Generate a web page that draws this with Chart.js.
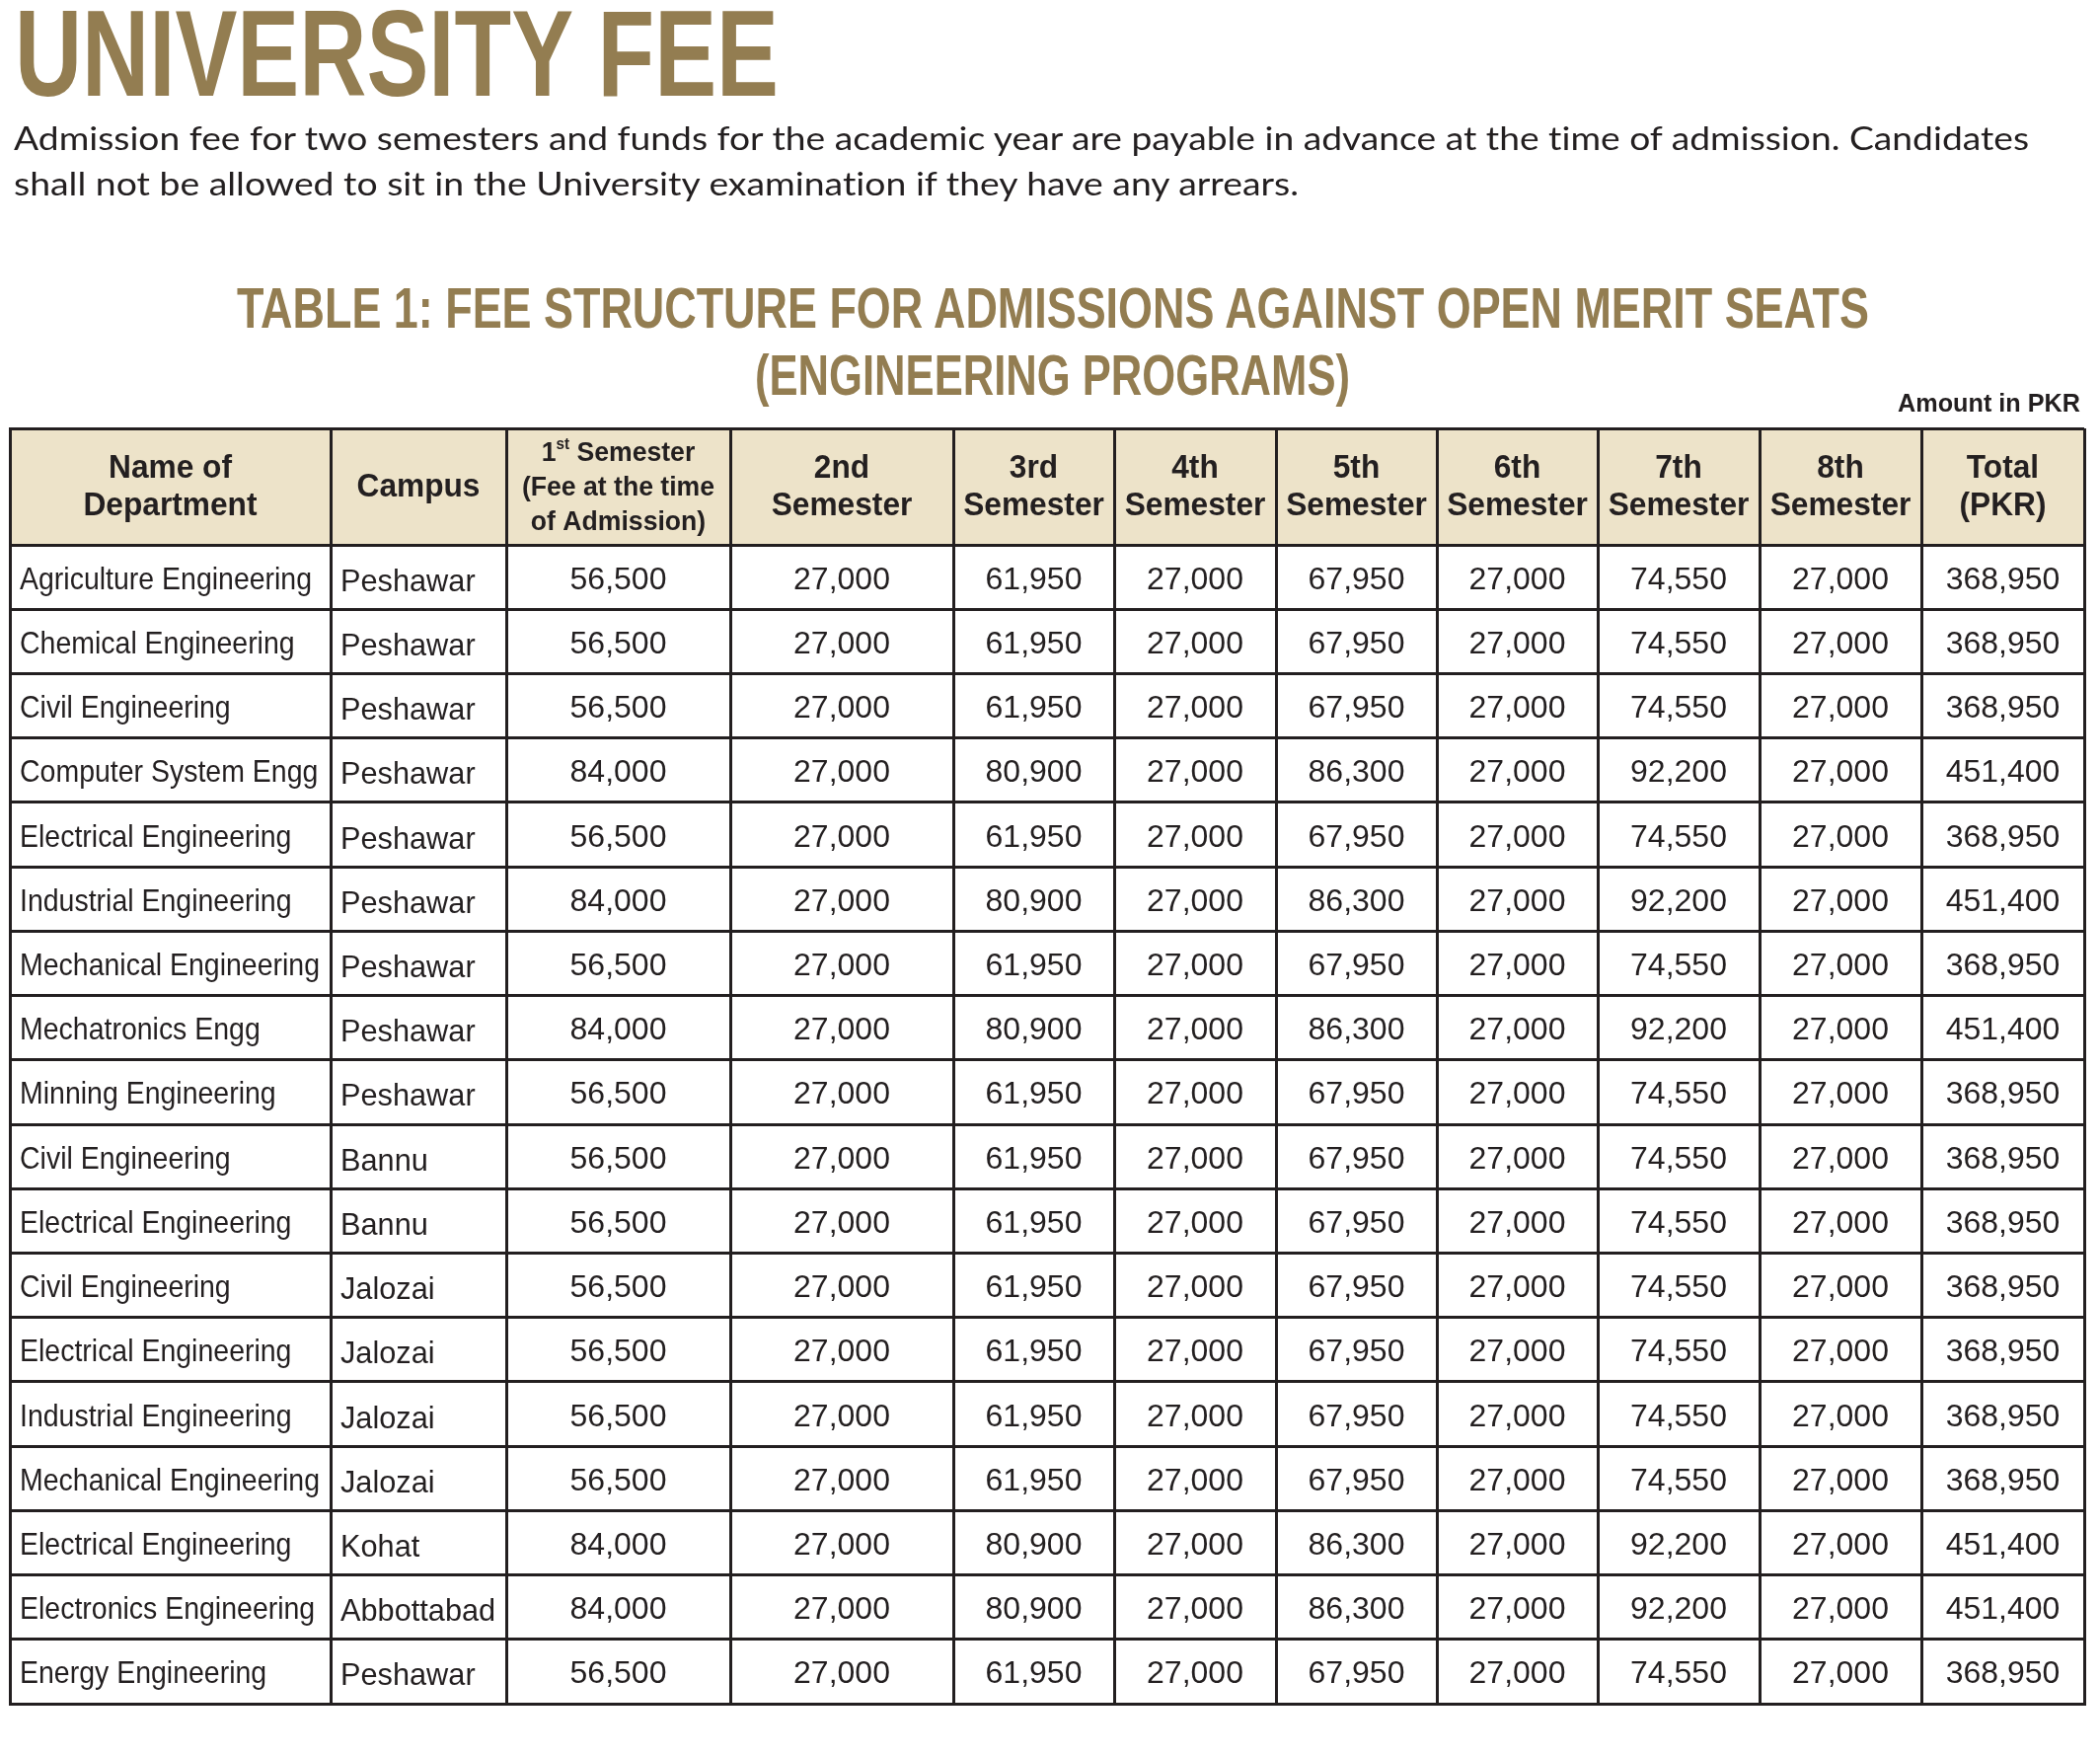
<!DOCTYPE html>
<html>
<head>
<meta charset="utf-8">
<title>University Fee</title>
<script src="https://cdn.jsdelivr.net/npm/chart.js@4.4.1/dist/chart.umd.min.js"></script>
<style>
  html, body { margin: 0; padding: 0; background: #fff; }
  body { width: 2128px; height: 1780px; position: relative; overflow: hidden; }
  #wrap { position: absolute; left: 0; top: 0; width: 2128px; height: 1780px; }
  .t { position: absolute; white-space: nowrap; line-height: 1; transform-origin: 0 0; font-variant-ligatures: none; }
  #mainTitle { font: bold 124px "Liberation Sans", Arial, sans-serif; color: #937d51; }
  .para { font: 32px Lato, "Open Sans", sans-serif; color: #231f20; font-variant-ligatures: none; }
  .tblTitle { font: bold 57px "Liberation Sans", Arial, sans-serif; color: #937d51; }
  #unit { font: bold 25px "Liberation Sans", Arial, sans-serif; color: #231f20; }
</style>
</head>
<body>
<div id="wrap"><canvas id="feeChart"></canvas></div>

<div class="t" id="mainTitle">UNIVERSITY FEE</div>
<div class="t para" id="para1">Admission fee for two semesters and funds for the academic year are payable in advance at the time of admission. Candidates</div>
<div class="t para" id="para2">shall not be allowed to sit in the University examination if they have any arrears.</div>
<div class="t tblTitle" id="tt1">TABLE 1: FEE STRUCTURE FOR ADMISSIONS AGAINST OPEN MERIT SEATS</div>
<div class="t tblTitle" id="tt2">(ENGINEERING PROGRAMS)</div>
<div class="t" id="unit">Amount in PKR</div>

<script>
const departments = [
    'Agriculture Engineering', 'Chemical Engineering', 'Civil Engineering',
    'Computer System Engg', 'Electrical Engineering', 'Industrial Engineering',
    'Mechanical Engineering', 'Mechatronics Engg', 'Minning Engineering',
    'Civil Engineering', 'Electrical Engineering', 'Civil Engineering',
    'Electrical Engineering', 'Industrial Engineering', 'Mechanical Engineering',
    'Electrical Engineering', 'Electronics Engineering', 'Energy Engineering'
];
const campuses = [
    'Peshawar', 'Peshawar', 'Peshawar', 'Peshawar', 'Peshawar', 'Peshawar',
    'Peshawar', 'Peshawar', 'Peshawar', 'Bannu', 'Bannu', 'Jalozai',
    'Jalozai', 'Jalozai', 'Jalozai', 'Kohat', 'Abbottabad', 'Peshawar'
];
const sem1Fee = [56500, 56500, 56500, 84000, 56500, 84000, 56500, 84000, 56500, 56500, 56500, 56500, 56500, 56500, 56500, 84000, 84000, 56500];
const sem2Fee = [27000, 27000, 27000, 27000, 27000, 27000, 27000, 27000, 27000, 27000, 27000, 27000, 27000, 27000, 27000, 27000, 27000, 27000];
const sem3Fee = [61950, 61950, 61950, 80900, 61950, 80900, 61950, 80900, 61950, 61950, 61950, 61950, 61950, 61950, 61950, 80900, 80900, 61950];
const sem4Fee = [27000, 27000, 27000, 27000, 27000, 27000, 27000, 27000, 27000, 27000, 27000, 27000, 27000, 27000, 27000, 27000, 27000, 27000];
const sem5Fee = [67950, 67950, 67950, 86300, 67950, 86300, 67950, 86300, 67950, 67950, 67950, 67950, 67950, 67950, 67950, 86300, 86300, 67950];
const sem6Fee = [27000, 27000, 27000, 27000, 27000, 27000, 27000, 27000, 27000, 27000, 27000, 27000, 27000, 27000, 27000, 27000, 27000, 27000];
const sem7Fee = [74550, 74550, 74550, 92200, 74550, 92200, 74550, 92200, 74550, 74550, 74550, 74550, 74550, 74550, 74550, 92200, 92200, 74550];
const sem8Fee = [27000, 27000, 27000, 27000, 27000, 27000, 27000, 27000, 27000, 27000, 27000, 27000, 27000, 27000, 27000, 27000, 27000, 27000];
const totalFee = [368950, 368950, 368950, 451400, 368950, 451400, 368950, 451400, 368950, 368950, 368950, 368950, 368950, 368950, 368950, 451400, 451400, 368950];

// header labels, one array per column ('^' marks a superscript)
const headerLines = [
    ['Name of', 'Department'],
    ['Campus'],
    ['1^st Semester', '(Fee at the time', 'of Admission)'],
    ['2nd', 'Semester'],
    ['3rd', 'Semester'],
    ['4th', 'Semester'],
    ['5th', 'Semester'],
    ['6th', 'Semester'],
    ['7th', 'Semester'],
    ['8th', 'Semester'],
    ['Total', '(PKR)']
];

// ---- layout / style ----
const colWidths = [325, 178, 227, 226, 163, 164, 163, 163, 164, 164, 165];
const HEADER_SPAN = 1.81;   // header row height in body-row units
const LINE = '#231f20';
const HEAD_BG = '#ede3c9';
const TEXT = '#231f20';
const FONT = '"Liberation Sans", Arial, sans-serif';

const colEdges = [0];
colWidths.forEach(w => colEdges.push(colEdges[colEdges.length - 1] + w));
const rowEdges = [0];
departments.forEach((d, i) => rowEdges.push(HEADER_SPAN + i));
rowEdges.push(HEADER_SPAN + departments.length);

const columns = [departments, campuses, sem1Fee, sem2Fee, sem3Fee, sem4Fee, sem5Fee, sem6Fee, sem7Fee, sem8Fee, totalFee];
const colAlign = columns.map((c, i) => i < 2 ? 'left' : 'center');
const colSquash = [0.89, 0.96, 1, 1, 1, 1, 1, 1, 1, 1, 1];

function fmt(v) {
    return typeof v === 'number' ? v.toLocaleString('en-US') : v;
}

const datasets = columns.map((col, c) => ({
    label: headerLines[c].join(' ').replace('^', ''),
    data: col.map((v, i) => ({
        x: colAlign[c] === 'left' ? colEdges[c] : (colEdges[c] + colEdges[c + 1]) / 2,
        y: HEADER_SPAN + i + 0.5,
        text: fmt(v)
    })),
    pointRadius: 0,
    showLine: false
}));

function squashText(ctx, text, x, y, align, sx) {
    ctx.save();
    ctx.translate(x, y);
    ctx.scale(sx, 1);
    ctx.textAlign = align;
    ctx.fillText(text, 0, 0);
    ctx.restore();
}

const tablePlugin = {
    id: 'feeTable',
    beforeDraw(chart) {
        const { ctx } = chart;
        const xs = chart.scales.x, ys = chart.scales.y;
        const top = ys.getPixelForValue(0), bottom = ys.getPixelForValue(HEADER_SPAN);
        ctx.save();
        ctx.fillStyle = HEAD_BG;
        ctx.fillRect(xs.getPixelForValue(0), top, xs.getPixelForValue(colEdges[colEdges.length - 1]) - xs.getPixelForValue(0), bottom - top);
        ctx.restore();
    },
    afterDraw(chart) {
        const { ctx } = chart;
        const xs = chart.scales.x, ys = chart.scales.y;
        ctx.save();
        ctx.fillStyle = TEXT;
        ctx.textBaseline = 'alphabetic';

        // header row
        const cy = (ys.getPixelForValue(0) + ys.getPixelForValue(HEADER_SPAN)) / 2;
        headerLines.forEach((lines, c) => {
            const cx = xs.getPixelForValue((colEdges[c] + colEdges[c + 1]) / 2);
            const three = lines.length === 3;
            const size = three ? 28 : 33;
            const sx = three ? 0.95 : 0.96;
            const offsets = lines.length === 1 ? [10] : lines.length === 2 ? [-9, 29] : [-26, 9, 44];
            lines.forEach((line, k) => {
                const y = cy + offsets[k];
                ctx.font = `bold ${size}px ${FONT}`;
                const m = line.match(/^(.*?)\^(\w+)(.*)$/);
                if (!m) {
                    squashText(ctx, line, cx, y, 'center', sx);
                    return;
                }
                const wBase = ctx.measureText(m[1]).width;
                const wRest = ctx.measureText(m[3]).width;
                ctx.font = `bold 16px ${FONT}`;
                const wSup = ctx.measureText(m[2]).width;
                let x = cx - (wBase + wSup + wRest) * sx / 2;
                ctx.font = `bold ${size}px ${FONT}`;
                squashText(ctx, m[1], x, y, 'left', sx);
                x += wBase * sx;
                ctx.font = `bold 16px ${FONT}`;
                squashText(ctx, m[2], x, y - 12, 'left', sx);
                x += wSup * sx;
                ctx.font = `bold ${size}px ${FONT}`;
                squashText(ctx, m[3], x, y, 'left', sx);
            });
        });

        // body cells, placed at the dataset points
        ctx.font = `32px ${FONT}`;
        chart.data.datasets.forEach((ds, c) => {
            const meta = chart.getDatasetMeta(c);
            meta.data.forEach((pt, i) => {
                const left = colAlign[c] === 'left';
                const x = left ? pt.x + 10 : pt.x;
                const y = pt.y + (c === 1 ? 14 : 12);
                squashText(ctx, ds.data[i].text, x, y, colAlign[c], colSquash[c]);
            });
        });
        ctx.restore();
    }
};

const gridOpts = { color: LINE, lineWidth: 3, drawTicks: false };
const borderOpts = { color: LINE, width: 3 };

new Chart(document.getElementById('feeChart'), {
    type: 'scatter',
    data: { datasets: datasets },
    options: {
        responsive: true,
        maintainAspectRatio: false,
        animation: false,
        events: [],
        layout: { padding: { left: 10, right: 16, top: 434, bottom: 54 } },
        plugins: {
            legend: { display: false },
            tooltip: { enabled: false }
        },
        scales: {
            x: {
                type: 'linear',
                min: 0,
                max: colEdges[colEdges.length - 1],
                afterBuildTicks: axis => { axis.ticks = colEdges.map(v => ({ value: v })); },
                ticks: { display: false, autoSkip: false },
                grid: gridOpts,
                border: borderOpts
            },
            y: {
                type: 'linear',
                reverse: true,
                min: 0,
                max: rowEdges[rowEdges.length - 1],
                afterBuildTicks: axis => { axis.ticks = rowEdges.map(v => ({ value: v })); },
                ticks: { display: false, autoSkip: false },
                grid: gridOpts,
                border: borderOpts
            }
        }
    },
    plugins: [tablePlugin]
});

// place the html headings: left x, baseline y, squeezed to the measured width
function place(id, x, baseline, width) {
    const el = document.getElementById(id);
    const mark = document.createElement('span');
    mark.style.cssText = 'display:inline-block;width:0;height:0;vertical-align:baseline';
    el.appendChild(mark);
    const box = el.getBoundingClientRect();
    const off = mark.getBoundingClientRect().top - box.top;
    el.style.left = x + 'px';
    el.style.top = (baseline - off) + 'px';
    el.style.transform = `scaleX(${width / box.width})`;
}

place('mainTitle', 15, 97, 774);
place('para1', 14, 152, 2042);
place('para2', 14, 198, 1302);
place('tt1', 240, 332, 1654);
place('tt2', 765, 400, 603);
place('unit', 1923, 417, 185);
</script>
</body>
</html>
